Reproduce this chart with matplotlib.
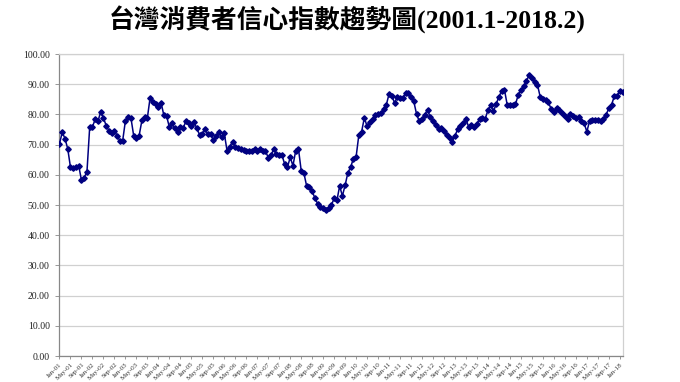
import matplotlib
matplotlib.use("Agg")
import matplotlib.pyplot as plt
import numpy as np

title = "台灣消費者信心指數趨勢圖(2001.1-2018.2)"

cci = [
    70.3, 74.1, 72.0, 68.6, 62.5, 62.4, 62.6, 63.0, 58.2, 59.1, 61.0, 75.9,
    75.9, 78.4, 77.8, 80.8, 78.8, 76.3, 74.6, 74.0, 74.6, 72.9, 71.3, 71.3,
    77.9, 79.1, 78.9, 73.0, 72.1, 73.0, 78.0, 79.1, 78.9, 85.6, 84.1, 83.3,
    82.6, 83.8, 79.7, 79.4, 75.8, 77.0, 75.4, 74.1, 75.8, 75.4, 77.7, 77.0,
    76.3, 77.4, 75.4, 73.2, 73.4, 75.1, 73.4, 73.4, 71.5, 72.9, 74.1, 72.6,
    73.7, 68.0, 69.3, 71.0, 69.3, 68.8, 68.4, 68.1, 67.9, 67.9, 67.9, 68.6,
    67.9, 68.4, 67.8, 67.9, 65.7, 66.4, 68.6, 66.8, 66.6, 66.5, 63.5, 62.5,
    65.8, 63.0, 68.0, 68.6, 61.4, 60.5, 56.2, 55.9, 54.5, 52.3, 50.4, 49.5,
    49.0, 48.4, 49.1, 50.0, 52.2, 51.5, 56.3, 53.0, 56.6, 60.7, 62.5, 65.4,
    66.0, 73.3, 74.3, 78.9, 76.0, 77.6, 78.5, 79.7, 80.3, 80.4, 81.8, 83.2,
    86.8, 86.1, 83.8, 85.9, 85.5, 85.5, 87.1, 87.0, 85.7, 84.3, 80.1, 77.7,
    78.5, 79.9, 81.6, 79.0, 77.7, 76.5, 75.3, 75.6, 74.6, 73.1, 72.1, 71.0,
    73.0, 75.1, 76.0, 77.2, 78.5, 75.7, 76.4, 75.7, 76.9, 78.6, 78.7, 78.6,
    81.4, 83.0, 81.0, 83.5, 85.9, 87.7, 88.2, 83.2, 83.1, 83.0, 83.3, 86.4,
    88.1, 89.3, 91.1, 93.0, 91.9, 90.8, 89.9, 85.9, 85.2, 84.7, 84.0, 81.8,
    80.9, 82.2, 81.3, 80.4, 79.5, 78.4, 80.3, 79.6, 78.8, 79.0, 77.9, 77.1,
    74.3, 77.8, 78.2, 78.2, 78.2, 77.9, 78.5, 79.9, 82.0, 83.2, 86.0, 86.0,
    87.9, 87.5,
]

months = ["Jan", "May", "Sep"]
years = list(range(2001, 2019))
x_labels = []
for y in years:
    for mo in months:
        if y == 2018 and mo != "Jan":
            continue
        x_labels.append(f"{mo}-{y % 100:02d}")

y_ticks = [0, 10, 20, 30, 40, 50, 60, 70, 80, 90, 100]

fig = plt.figure(figsize=(6.8, 3.82), dpi=100)
ax = fig.add_axes([0.0875, 0.068, 0.828, 0.7906])

x = np.arange(len(cci))
ax.plot(x, cci, color="#000080", lw=1.1, marker="D", ms=2.8,
        mec="#000080", mfc="#000080", zorder=3)

ax.set_xlim(0, len(cci) - 1)
ax.set_ylim(0, 100)
ax.set_yticks(y_ticks)
ax.set_yticklabels([f"{v:.2f}" for v in y_ticks], family="Liberation Serif",
                   fontsize=7, color="#222222")
ax.yaxis.grid(True, color="#d0d0d0", lw=0.9)
ax.set_axisbelow(True)

ax.set_xticks(np.arange(0, len(cci), 4))
ax.set_xticklabels(x_labels, rotation=45, ha="right", va="top",
                   family="Liberation Serif", fontsize=5.0, color="#333333",
                   rotation_mode="anchor")
ax.tick_params(axis="x", length=2.5, width=0.6, color="#888888", pad=1.5)
ax.tick_params(axis="y", length=3, width=0.6, color="#888888", pad=4)

for s in ["left", "bottom"]:
    ax.spines[s].set_color("#888888")
    ax.spines[s].set_linewidth(0.9)
for s in ["right", "top"]:
    ax.spines[s].set_color("#d0d0d0")
    ax.spines[s].set_linewidth(0.9)

fig.text(0.51, 0.948, title, ha="center", va="center", fontsize=18.5,
         fontweight="bold", family=["Liberation Serif", "Noto Sans CJK TC"])

fig.savefig("out.png", dpi=100)
